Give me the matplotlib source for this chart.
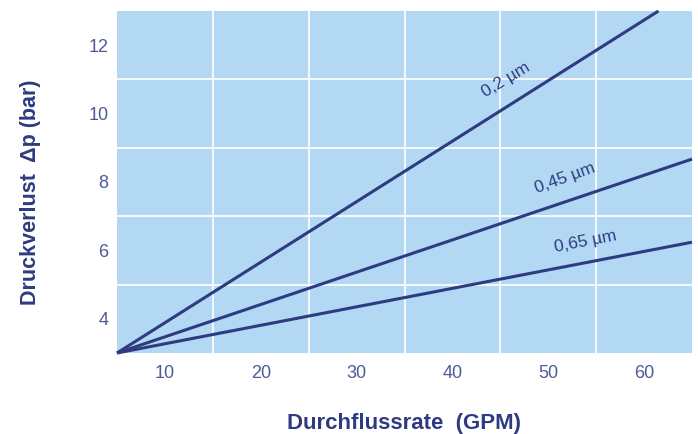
import matplotlib
matplotlib.use("Agg")
import matplotlib.pyplot as plt

# Data (flow rate in GPM vs pressure drop in bar)
series_names = ["0,2 µm", "0,45 µm", "0,65 µm"]
x_02 = [5, 61.5]
y_02 = [3, 13.0]
x_045 = [5, 65]
y_045 = [3, 8.67]
x_065 = [5, 65]
y_065 = [3, 6.24]
label_pos = [(45.6, 11.0), (51.7, 8.1), (53.9, 6.27)]
label_rot = [31, 20, 11]
xticks = [10, 20, 30, 40, 50, 60]
yticks = [4, 6, 8, 10, 12]
xgrid = [15, 25, 35, 45, 55]
ygrid = [5, 7, 9, 11]

plt.rcParams['font.family'] = ['Liberation Sans', 'DejaVu Sans']

bg = '#b3d8f3'
line_c = '#2e3b80'
tick_c = '#4f5b98'

fig = plt.figure(figsize=(6.98, 4.34), dpi=100)
ax = fig.add_axes([117/698, (434-353)/434, (692-117)/698, (353-11)/434])
ax.set_facecolor(bg)

for g in xgrid:
    ax.axvline(g, color='white', lw=1.2, zorder=1)
for g in ygrid:
    ax.axhline(g, color='white', lw=1.2, zorder=1)

for xs, ys in [(x_02, y_02), (x_045, y_045), (x_065, y_065)]:
    ax.plot(xs, ys, color=line_c, lw=2.2, zorder=3, solid_capstyle='butt', clip_on=False)

for name, (lx, ly), r in zip(series_names, label_pos, label_rot):
    ax.text(lx, ly, name, color=line_c, fontsize=12.5, rotation=r,
            ha='center', va='center', rotation_mode='anchor', zorder=4)

ax.set_xlim(5, 65)
ax.set_ylim(3, 13)
ax.set_xticks(xticks)
ax.set_yticks(yticks)
ax.tick_params(length=0, labelsize=13, colors=tick_c)
ax.tick_params(axis='y', pad=6)
ax.tick_params(axis='x', pad=9)
for s in ax.spines.values():
    s.set_visible(False)

ax.set_xlabel("Durchflussrate  (GPM)", fontsize=16, fontweight='bold', color=line_c, va='center')
ax.set_ylabel("Druckverlust  Δp (bar)", fontsize=15.5, fontweight='bold', color=line_c, va='center')
ax.xaxis.set_label_coords((404-117)/575, -(424-353)/342, transform=ax.transAxes)
ax.yaxis.set_label_coords(-(117-31)/575, (353-192)/342, transform=ax.transAxes)

fig.savefig("out.png", dpi=100)
